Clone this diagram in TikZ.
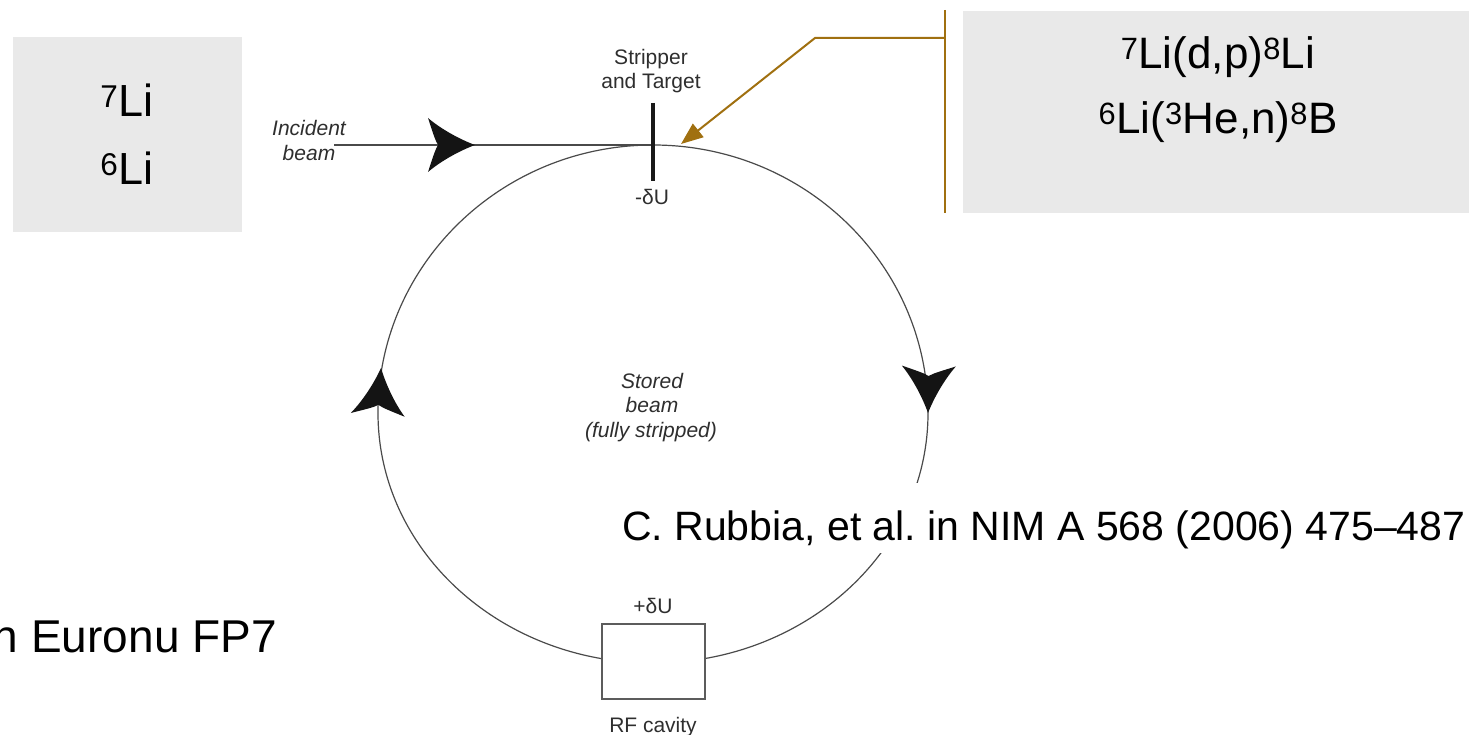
\documentclass[tikz,border=0pt]{standalone}
\usepackage{fontspec}
\setmainfont{Liberation Sans}
\usetikzlibrary{arrows.meta}
\definecolor{boxgray}{HTML}{E9E9E9}
\definecolor{callout}{RGB}{160,112,16}
\definecolor{ink}{HTML}{2E2E2E}
\definecolor{ringgray}{HTML}{4A4A4A}
\tikzset{
  bigarrow/.pic={\fill[black!92] (0,0) .. controls (-16,-6) and (-34,-16) .. (-47,-27)
      .. controls (-42,-12) and (-40,-5) .. (-37,0)
      .. controls (-40,5) and (-42,12) .. (-47,27)
      .. controls (-34,16) and (-16,6) .. (0,0) -- cycle;},
  smalltext/.style={font=\fontsize{21}{25}\selectfont, text=ink, inner sep=0pt, anchor=base},
  smallit/.style={smalltext, font=\fontsize{21}{25}\selectfont\itshape},
  bigtext/.style={font=\fontsize{45}{54}\selectfont, inner sep=0pt, anchor=base},
  rtext/.style={font=\fontsize{44}{52}\selectfont, inner sep=0pt, anchor=base},
  ring/.style={draw=ringgray, line width=1.2pt},
  calloutline/.style={draw=callout, line width=2pt},
}
\frenchspacing
\begin{document}
\begin{tikzpicture}[x=1pt,y=-1pt]
\useasboundingbox (0,0) rectangle (1469,735);
\clip (0,0) rectangle (1469,735);

% left gray box
\fill[boxgray] (13,37) rectangle (242,232);
\node[bigtext] (li7) at (127,117) {\textsuperscript{7}Li};
\node[bigtext] (li6) at (127,185) {\textsuperscript{6}Li};

% right gray box
\fill[boxgray] (963,11) rectangle (1469,213);
\node[rtext] (react1) at (1218,69) {\textsuperscript{7}Li(d,p)\textsuperscript{8}Li};
\node[rtext] (react2) at (1218,134) {\textsuperscript{6}Li(\textsuperscript{3}He,n)\textsuperscript{8}B};

% storage ring
\coordinate (ringtop) at (653,145);
\draw[ring] (378,413) arc[start angle=180, end angle=0, x radius=275pt, y radius=268pt]
            arc[start angle=0, end angle=-180, x radius=275pt, y radius=250pt];

% incident beam
\coordinate (beamstart) at (334,145);
\draw[ring] (beamstart) -- (ringtop);
\pic at (475,145) {bigarrow};
\node[smallit] (inc1) at (309,136) {Incident};
\node[smallit] (inc2) at (309,161) {beam};

% ring direction arrows
\pic[rotate=86] at (381,368) {bigarrow};
\pic[rotate=-91] at (928,413) {bigarrow};

% stripper
\draw[line width=3.5pt, black!90] (653,103) -- (653,181);
\node[smalltext] (str1) at (651,65) {Stripper};
\node[smalltext] (str2) at (651,89) {and Target};
\node[smalltext] (minusdu) at (652,205) {-δU};

% stored beam label
\node[smallit] (st1) at (652,388) {Stored};
\node[smallit] (st2) at (652,412) {beam};
\node[smallit] (st3) at (651,437) {(fully stripped)};

% RF cavity
\draw[draw=ringgray!90, line width=1.8pt, fill=white] (602,624) rectangle (705,699);
\node[smalltext] (plusdu) at (653,613) {+δU};
\node[smalltext] (rf) at (653,732) {RF cavity};

% callout
\coordinate (cbar) at (945,38);
\coordinate (cknee) at (815,38);
\coordinate (ctip) at (681,144);
\draw[calloutline] (945,10) -- (945,213);
\draw[calloutline, -{Triangle[length=22pt,width=17pt]}] (cbar) -- (cknee) -- (ctip);

% reference
\fill[white] (605,483) rectangle (1469,553);
\node[font=\fontsize{41}{48}\selectfont, inner sep=0pt, anchor=base west] (ref) at (622,540) {C. Rubbia, et al. in NIM A 568 (2006) 475–487};

% euronu
\node[font=\fontsize{46}{54}\selectfont, inner sep=0pt, anchor=base east] (euronu) at (277,652) {n Euronu FP7};
\end{tikzpicture}
\end{document}
